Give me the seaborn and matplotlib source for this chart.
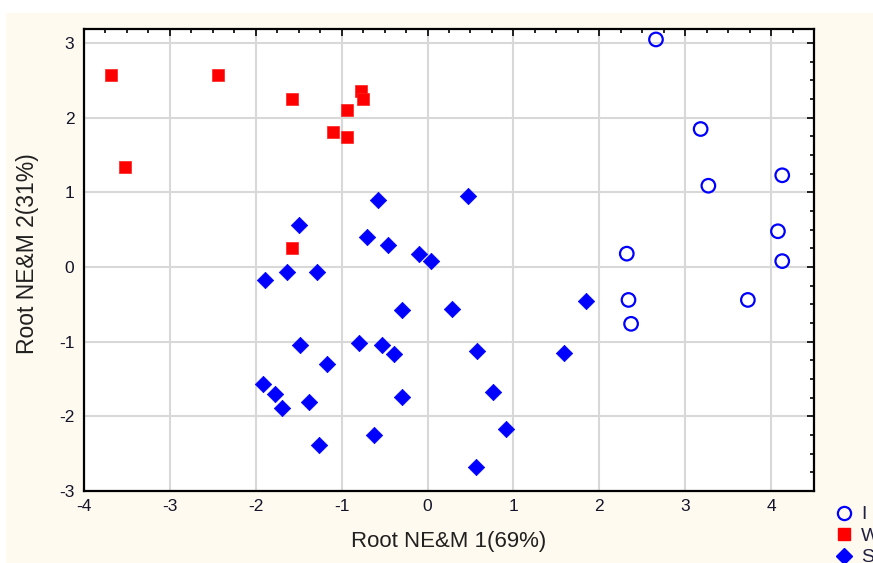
import matplotlib
matplotlib.use("Agg")
import matplotlib.pyplot as plt
from matplotlib.ticker import AutoMinorLocator
from matplotlib.lines import Line2D
from matplotlib.patches import Rectangle
import seaborn as sns
import pandas as pd

# ---- data ----
groups = ["I", "W", "S"]

i_x = [2.66, 3.18, 3.27, 4.13, 4.08, 4.13, 2.32, 2.34, 2.37, 3.73]
i_y = [3.05, 1.85, 1.09, 1.23, 0.48, 0.08, 0.18, -0.44, -0.76, -0.44]

w_x = [-3.69, -2.44, -3.52, -1.58, -0.77, -0.75, -0.94, -1.10, -0.94, -1.58]
w_y = [2.57, 2.57, 1.34, 2.25, 2.36, 2.25, 2.11, 1.81, 1.74, 0.26]

s_x = [-0.58, -1.50, -0.71, -0.46, -0.10, 0.04, 0.47,
       -1.89, -1.64, -1.29, -0.30, 0.28, -1.49, -0.80, -0.53, -0.39, -1.17,
       -1.92, -1.78, -1.69, -1.38, -0.30, -0.62, -1.26,
       1.85, 0.58, 1.59, 0.76, 0.91, 0.56]
s_y = [0.90, 0.57, 0.40, 0.29, 0.18, 0.08, 0.95,
       -0.17, -0.07, -0.07, -0.58, -0.56, -1.05, -1.02, -1.05, -1.16, -1.30,
       -1.56, -1.70, -1.89, -1.81, -1.74, -2.25, -2.39,
       -0.45, -1.13, -1.15, -1.68, -2.17, -2.68]

x_ticks = [-4, -3, -2, -1, 0, 1, 2, 3, 4]
y_ticks = [-3, -2, -1, 0, 1, 2, 3]
x_label = "Root NE&M 1(69%)"
y_label = "Root NE&M 2(31%)"

df = pd.concat([
    pd.DataFrame({"x": i_x, "y": i_y, "g": "I"}),
    pd.DataFrame({"x": w_x, "y": w_y, "g": "W"}),
    pd.DataFrame({"x": s_x, "y": s_y, "g": "S"}),
], ignore_index=True)

sns.set_theme(style="white")
plt.rcParams["font.family"] = ["Liberation Sans", "DejaVu Sans"]
plt.rcParams["axes.unicode_minus"] = False

fig = plt.figure(figsize=(8.73, 5.63), dpi=100, facecolor="white")
fig.patches.append(Rectangle((6 / 873, 0), 1 - 6 / 873, 1 - 13 / 563,
                             transform=fig.transFigure, facecolor="#fffaf0",
                             edgecolor="none", zorder=-10))
ax = fig.add_axes([84 / 873, 1 - 491 / 563, (814 - 84) / 873, (491 - 29) / 563])
ax.set_facecolor("white")

sns.scatterplot(data=df[df.g == "I"], x="x", y="y", ax=ax, marker="o", s=95,
                facecolor="none", edgecolor="#0000ff", linewidth=1.6, zorder=3,
                legend=False)
sns.scatterplot(data=df[df.g == "W"], x="x", y="y", ax=ax, marker="s", s=72,
                color="#ff0000", edgecolor="#ff2020", linewidth=0.5, zorder=3,
                legend=False)
sns.scatterplot(data=df[df.g == "S"], x="x", y="y", ax=ax, marker="D", s=70,
                color="#0000ff", edgecolor="#0000ff", linewidth=0.5, zorder=3,
                legend=False)

ax.set_xlim(-4, 4.5)
ax.set_ylim(-3, 3.19)
ax.set_xticks(x_ticks)
ax.set_yticks(y_ticks)
ax.xaxis.set_minor_locator(AutoMinorLocator(4))
ax.yaxis.set_minor_locator(AutoMinorLocator(4))
ax.grid(True, which="major", color="#d8d8d8", linewidth=1.5, zorder=0)
ax.set_axisbelow(True)
ax.tick_params(axis="both", which="both", direction="in", top=True, right=True,
               colors="black", labelcolor="#14142a", labelsize=12.5)
ax.tick_params(axis="x", which="major", pad=6)
ax.tick_params(axis="y", which="major", pad=7)
ax.tick_params(which="major", length=5, width=1.2)
ax.tick_params(which="minor", length=3, width=1.2)
for sp in ax.spines.values():
    sp.set_color("black")
    sp.set_linewidth(1.6)

ax.set_xlabel(x_label, fontsize=16, color="#202020")
ax.set_ylabel(y_label, fontsize=16.5, color="#202020")
ax.xaxis.label.set_va("center")
ax.yaxis.label.set_va("center")
ax.xaxis.set_label_coords(0.5, (491 - 542) / 462)
ax.yaxis.set_label_coords((28 - 84) / 730, (491 - 254) / 462)

handles = [
    Line2D([], [], linestyle="none", marker="o", markersize=9.5,
           markerfacecolor="none", markeredgecolor="#0000ff", markeredgewidth=1.6),
    Line2D([], [], linestyle="none", marker="s", markersize=8.4,
           markerfacecolor="#ff0000", markeredgecolor="#ff0000"),
    Line2D([], [], linestyle="none", marker="D", markersize=8.2,
           markerfacecolor="#0000ff", markeredgecolor="#0000ff"),
]
fig.legend(handles, groups, loc="upper left", bbox_to_anchor=(826 / 873, 1 - 498 / 563),
           frameon=False, fontsize=14, handletextpad=0.4, labelspacing=0.2,
           handlelength=1.0, borderaxespad=0, labelcolor="#202040")

fig.savefig("out.png", dpi=100, facecolor="white")
